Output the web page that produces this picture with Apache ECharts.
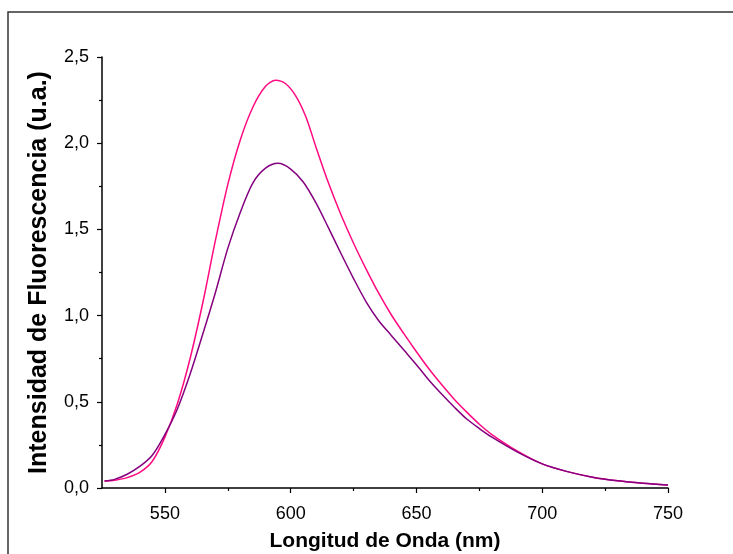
<!DOCTYPE html>
<html>
<head>
<meta charset="utf-8">
<script src="https://cdn.jsdelivr.net/npm/echarts@6/dist/echarts.min.js"></script>
<style>html,body{margin:0;padding:0;background:#fff}#c{width:733px;height:554px}</style>
</head>
<body>
<div id="c"></div>
<script>
const wavelengthsPink = [526,530,535,540,545,550,555,560,565,570,575,580,585,590,594,598,602,606,610,615,620,625,630,635,640,645,650,655,660,665,670,675,680,690,700,710,720,730,740,750];
const pinkValues = [0.04,0.045,0.06,0.09,0.155,0.295,0.49,0.75,1.07,1.43,1.76,2.02,2.21,2.33,2.365,2.345,2.275,2.155,1.98,1.77,1.585,1.42,1.27,1.13,1.005,0.895,0.79,0.69,0.60,0.515,0.44,0.37,0.31,0.215,0.14,0.095,0.063,0.042,0.028,0.018];
const wavelengthsPurple = [526,530,535,540,545,550,555,560,565,570,575,580,585,590,595,600,605,610,615,620,625,630,635,640,645,650,655,660,665,670,675,680,690,700,710,720,730,740,750];
const purpleValues = [0.04,0.05,0.08,0.125,0.19,0.31,0.46,0.66,0.89,1.13,1.39,1.6,1.77,1.855,1.883,1.85,1.775,1.655,1.51,1.36,1.215,1.08,0.97,0.885,0.80,0.715,0.625,0.545,0.47,0.40,0.345,0.295,0.21,0.14,0.095,0.063,0.042,0.028,0.018];
const xMajorTicks = [550,600,650,700,750];
const xMinorTicks = [575,625,675,725];
const xTitle = 'Longitud de Onda (nm)';
const yTitle = 'Intensidad de Fluorescencia (u.a.)';

const chart = echarts.init(document.getElementById('c'));
const font = 'Liberation Sans, Arial, sans-serif';
chart.setOption({
  animation: false,
  backgroundColor: '#fff',
  graphic: [{
    type: 'rect', shape: {x: 8, y: 12, width: 900, height: 700},
    style: {fill: 'none', stroke: '#333', lineWidth: 1.5}, silent: true
  }],
  grid: {left: 102, right: 65, top: 57, bottom: 66, containLabel: false, outerBoundsMode: 'none'},
  xAxis: [{
    type: 'value', min: 525, max: 750,
    name: xTitle, nameLocation: 'middle', nameGap: 43,
    nameTextStyle: {fontFamily: font, fontSize: 21, fontWeight: 'bold', color: '#000'},
    axisLine: {lineStyle: {color: '#000', width: 1.5}},
    axisTick: {show: true, length: 5, inside: false, customValues: xMajorTicks, lineStyle: {color: '#000', width: 1.2}},
    axisLabel: {customValues: xMajorTicks, fontFamily: font, fontSize: 18, color: '#000', margin: 17},
    splitLine: {show: false}
  }, {
    type: 'value', min: 525, max: 750, position: 'bottom',
    axisLine: {show: false},
    axisTick: {show: true, length: 3, customValues: xMinorTicks, lineStyle: {color: '#000', width: 1.2}},
    axisLabel: {show: false},
    splitLine: {show: false}
  }],
  yAxis: {
    type: 'value', min: 0, max: 2.5, interval: 0.5,
    name: yTitle, nameLocation: 'middle', nameGap: 50,
    nameTextStyle: {fontFamily: font, fontSize: 25, fontWeight: 'bold', color: '#000'},
    axisLine: {show: true, lineStyle: {color: '#000', width: 1.5}},
    axisTick: {show: true, length: 5, lineStyle: {color: '#000', width: 1.2}},
    minorTick: {show: true, splitNumber: 2, length: 3, lineStyle: {color: '#000', width: 1.2}},
    axisLabel: {fontFamily: font, fontSize: 18, color: '#000', margin: 13,
      formatter: v => v.toFixed(1).replace('.', ',')},
    splitLine: {show: false}
  },
  series: [{
    type: 'line', name: 'a', smooth: 0.3, showSymbol: false,
    data: wavelengthsPink.map((w, i) => [w, pinkValues[i]]),
    lineStyle: {color: '#FF0A80', width: 1.5}, z: 2
  }, {
    type: 'line', name: 'b', smooth: 0.3, showSymbol: false,
    data: wavelengthsPurple.map((w, i) => [w, purpleValues[i]]),
    lineStyle: {color: '#84007F', width: 1.5}, z: 3
  }]
});
</script>
</body>
</html>
